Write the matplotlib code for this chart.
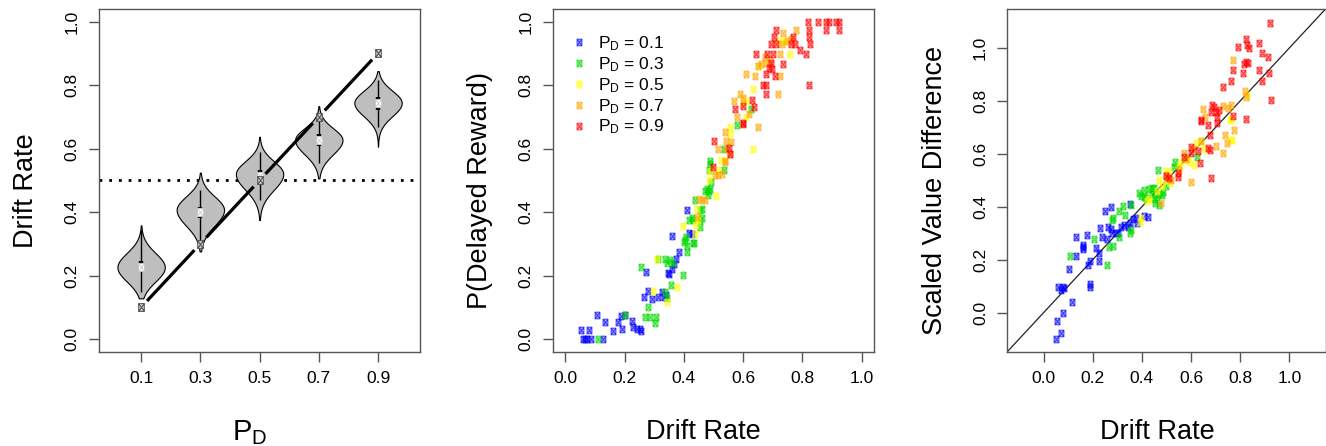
import numpy as np
import matplotlib
matplotlib.use("Agg")
import matplotlib.pyplot as plt
from matplotlib.path import Path
from matplotlib.lines import Line2D

plt.rcParams['font.family'] = ['Liberation Sans', 'DejaVu Sans']
plt.rcParams['mathtext.fontset'] = 'custom'
plt.rcParams['mathtext.rm'] = 'Liberation Sans'
plt.rcParams['mathtext.it'] = 'Liberation Sans:italic'

# ---- data ----
pd_levels = [0.1, 0.3, 0.5, 0.7, 0.9]
pd_labels = ['0.1', '0.3', '0.5', '0.7', '0.9']

# violin summaries (drift rate by P_D)
vio_lo = [0.128, 0.276, 0.375, 0.506, 0.606]
vio_hi = [0.358, 0.524, 0.637, 0.734, 0.844]
vio_mode = [0.226, 0.407, 0.52, 0.627, 0.744]
vio_sd_up = [0.045, 0.042, 0.040, 0.037, 0.038]
vio_sd_dn = [0.045, 0.050, 0.050, 0.045, 0.042]
vio_med = [0.227, 0.401, 0.515, 0.627, 0.742]
vio_q1 = [0.212, 0.380, 0.494, 0.608, 0.721]
vio_q3 = [0.245, 0.417, 0.534, 0.645, 0.761]
vio_wlo = [0.149, 0.297, 0.438, 0.553, 0.669]
vio_whi = [0.343, 0.470, 0.590, 0.705, 0.815]

# drift rate vs P(delayed reward)
p2_blue = [(0.061, 0), (0.072, 0), (0.085, 0), (0.128, 0), (0.066, 0.0),
           (0.053, 0.028), (0.08, 0.028), (0.106, 0.075), (0.134, 0.054),
           (0.162, 0.026), (0.187, 0.073), (0.179, 0.054), (0.19, 0.033),
           (0.224, 0.058), (0.229, 0.039), (0.241, 0.03), (0.252, 0.03),
           (0.257, 0.025), (0.2, 0.075), (0.266, 0.133), (0.278, 0.151),
           (0.291, 0.125), (0.272, 0.212), (0.313, 0.133), (0.325, 0.149),
           (0.334, 0.133), (0.347, 0.207), (0.35, 0.205), (0.359, 0.222),
           (0.366, 0.235), (0.373, 0.251), (0.383, 0.275), (0.359, 0.324),
           (0.412, 0.405), (0.418, 0.335), (0.426, 0.33), (0.34, 0.14)]
p2_green = [(0.111, 0), (0.201, 0.075), (0.269, 0.068), (0.285, 0.068),
            (0.302, 0.049), (0.306, 0.068), (0.28, 0.10), (0.257, 0.227),
            (0.336, 0.149), (0.343, 0.128), (0.356, 0.17), (0.313, 0.251),
            (0.336, 0.251), (0.353, 0.248), (0.342, 0.238), (0.364, 0.238),
            (0.398, 0.201), (0.403, 0.311), (0.431, 0.301), (0.409, 0.292),
            (0.411, 0.275), (0.4, 0.306), (0.433, 0.303), (0.407, 0.32),
            (0.418, 0.374), (0.426, 0.38), (0.431, 0.374), (0.454, 0.374),
            (0.463, 0.38), (0.454, 0.353), (0.437, 0.437), (0.454, 0.406),
            (0.463, 0.408), (0.477, 0.473), (0.485, 0.467), (0.49, 0.473),
            (0.47, 0.467), (0.483, 0.455), (0.493, 0.495), (0.488, 0.552),
            (0.485, 0.534), (0.535, 0.534), (0.534, 0.6), (0.58, 0.673),
            (0.627, 0.724), (0.49, 0.56)]
p2_yellow = [(0.297, 0.152), (0.342, 0.117), (0.377, 0.165), (0.31, 0.251),
             (0.398, 0.355), (0.437, 0.33), (0.443, 0.408), (0.448, 0.375),
             (0.485, 0.5), (0.51, 0.45), (0.516, 0.534), (0.527, 0.563),
             (0.555, 0.668), (0.555, 0.647), (0.632, 0.6), (0.6, 0.745),
             (0.611, 0.75), (0.611, 0.7), (0.634, 0.787), (0.76, 0.897),
             (0.65, 0.86), (0.72, 0.94), (0.74, 0.94), (0.44, 0.36), (0.49, 0.53)]
p2_orange = [(0.443, 0.385), (0.463, 0.437), (0.471, 0.437), (0.505, 0.516),
             (0.516, 0.516), (0.538, 0.557), (0.516, 0.6), (0.544, 0.6),
             (0.538, 0.652), (0.544, 0.624), (0.56, 0.62), (0.555, 0.584),
             (0.59, 0.771), (0.611, 0.834), (0.639, 0.829), (0.651, 0.667),
             (0.651, 0.861), (0.662, 0.866), (0.673, 0.887), (0.679, 0.871),
             (0.69, 0.876), (0.724, 0.897), (0.718, 0.771), (0.724, 0.829),
             (0.731, 0.93), (0.75, 0.94), (0.735, 0.965), (0.763, 0.944),
             (0.78, 0.974), (0.58, 0.70), (0.6, 0.76), (0.57, 0.75),
             (0.62, 0.71), (0.45, 0.44), (0.54, 0.56), (0.53, 0.52)]
p2_red = [(0.498, 0.543), (0.503, 0.623), (0.553, 0.602), (0.555, 0.584),
          (0.6, 0.676), (0.573, 0.724), (0.601, 0.733), (0.601, 0.679),
          (0.631, 0.753), (0.636, 0.73), (0.643, 0.897), (0.667, 0.8),
          (0.679, 0.8), (0.676, 0.771), (0.679, 0.834), (0.707, 0.829),
          (0.696, 0.871), (0.688, 0.855), (0.699, 0.85), (0.681, 0.897),
          (0.701, 0.897), (0.735, 0.866), (0.696, 0.929), (0.712, 0.929),
          (0.703, 0.95), (0.71, 0.974), (0.763, 0.929), (0.774, 0.929),
          (0.768, 0.95), (0.793, 0.911), (0.814, 0.897), (0.822, 0.8),
          (0.822, 0.95), (0.825, 0.928), (0.819, 0.999), (0.823, 0.974),
          (0.853, 1.0), (0.881, 1.0), (0.89, 1.0), (0.915, 1.0), (0.923, 1.0),
          (0.879, 0.974), (0.924, 0.974)]

# drift rate vs scaled value difference
p3_blue = [(0.05, -0.1), (0.07, -0.078), (0.054, -0.031), (0.077, -0.003),
           (0.115, 0.039), (0.058, 0.098), (0.077, 0.098), (0.084, 0.092),
           (0.07, 0.086), (0.188, 0.098), (0.188, 0.107), (0.104, 0.164),
           (0.131, 0.212), (0.131, 0.285), (0.175, 0.292), (0.158, 0.256),
           (0.158, 0.239), (0.161, 0.247), (0.181, 0.18), (0.19, 0.193),
           (0.215, 0.243), (0.225, 0.224), (0.225, 0.196), (0.231, 0.319),
           (0.239, 0.285), (0.258, 0.277), (0.248, 0.384), (0.273, 0.4),
           (0.262, 0.325), (0.273, 0.315), (0.279, 0.302), (0.293, 0.3),
           (0.304, 0.3), (0.316, 0.325), (0.325, 0.331), (0.343, 0.325),
           (0.35, 0.34), (0.365, 0.353), (0.352, 0.411), (0.41, 0.365),
           (0.424, 0.36), (0.377, 0.356), (0.379, 0.34)]
p3_green = [(0.107, 0.214), (0.204, 0.277), (0.258, 0.178), (0.282, 0.252),
            (0.266, 0.247), (0.306, 0.287), (0.282, 0.356), (0.305, 0.385),
            (0.323, 0.403), (0.35, 0.3), (0.356, 0.312), (0.277, 0.348),
            (0.331, 0.37), (0.354, 0.407), (0.387, 0.451), (0.408, 0.438),
            (0.441, 0.448), (0.462, 0.436), (0.482, 0.445), (0.455, 0.413),
            (0.471, 0.407), (0.451, 0.428), (0.41, 0.463), (0.43, 0.466),
            (0.451, 0.47), (0.397, 0.441), (0.417, 0.432), (0.484, 0.457),
            (0.464, 0.539), (0.536, 0.571), (0.624, 0.589), (0.44, 0.47),
            (0.5, 0.48), (0.47, 0.45), (0.53, 0.55)]
p3_yellow = [(0.394, 0.344), (0.397, 0.356), (0.42, 0.42), (0.46, 0.46),
             (0.48, 0.48), (0.47, 0.5), (0.5, 0.535), (0.51, 0.53),
             (0.513, 0.49), (0.55, 0.55), (0.585, 0.58), (0.59, 0.57),
             (0.613, 0.558), (0.64, 0.65), (0.652, 0.62), (0.757, 0.733),
             (0.761, 0.652), (0.763, 0.728), (0.765, 0.652), (0.826, 0.822),
             (0.5, 0.5), (0.43, 0.43), (0.56, 0.57), (0.62, 0.64)]
p3_orange = [(0.478, 0.413), (0.599, 0.495), (0.57, 0.602), (0.7, 0.63),
             (0.649, 0.768), (0.657, 0.741), (0.732, 0.782), (0.752, 0.773),
             (0.776, 0.69), (0.745, 0.642), (0.732, 0.604), (0.761, 0.785),
             (0.819, 0.839), (0.822, 0.816), (0.771, 0.955), (0.64, 0.65),
             (0.52, 0.5), (0.55, 0.54), (0.58, 0.58), (0.61, 0.62),
             (0.74, 0.67), (0.5, 0.52)]
p3_red = [(0.923, 1.096), (0.825, 1.034), (0.792, 1.005), (0.829, 1.011),
          (0.835, 0.999), (0.876, 1.018), (0.887, 0.98), (0.914, 0.965),
          (0.822, 0.948), (0.815, 0.94), (0.833, 0.945), (0.772, 0.917),
          (0.811, 0.904), (0.876, 0.917), (0.919, 0.907), (0.889, 0.877),
          (0.761, 0.877), (0.73, 0.851), (0.927, 0.804), (0.822, 0.732),
          (0.771, 0.743), (0.68, 0.508), (0.64, 0.728), (0.684, 0.785),
          (0.695, 0.778), (0.7, 0.759), (0.682, 0.759), (0.714, 0.766),
          (0.704, 0.741), (0.641, 0.725), (0.668, 0.709), (0.704, 0.716),
          (0.678, 0.671), (0.671, 0.621), (0.678, 0.615), (0.601, 0.627),
          (0.601, 0.602), (0.63, 0.612), (0.57, 0.589), (0.637, 0.567),
          (0.547, 0.527), (0.547, 0.514), (0.498, 0.516), (0.51, 0.51)]

group_colors = [(0, 0, 1), (0, 0.85, 0), (1, 1, 0), (1, 0.65, 0), (1, 0, 0)]
p2_groups = [p2_blue, p2_green, p2_yellow, p2_orange, p2_red]
p3_groups = [p3_blue, p3_green, p3_yellow, p3_orange, p3_red]

# R's pch=7: square with an X inside
w, h = 0.36, 0.5
BOXX = Path([(-w, -h), (w, -h), (w, h), (-w, h), (-w, -h),
             (-w, -h), (w, h), (-w, h), (w, -h)],
            [Path.MOVETO, Path.LINETO, Path.LINETO, Path.LINETO, Path.CLOSEPOLY,
             Path.MOVETO, Path.LINETO, Path.MOVETO, Path.LINETO])

SPINE = '#555555'
TICK_FS = 12.5
LABEL_FS = 19.5


def style_axes(ax):
    for s in ax.spines.values():
        s.set_color(SPINE)
        s.set_linewidth(1.0)
    ax.tick_params(direction='out', length=7, width=1.0, color=SPINE,
                   labelsize=TICK_FS, pad=7)
    ax.tick_params(axis='y', labelrotation=90)
    for t in ax.get_yticklabels():
        t.set_va('center')
    ax.xaxis.set_label_coords(0.47, -0.195)
    ax.yaxis.set_label_coords(-0.188, 0.471)


def scatter_groups(ax, groups):
    for pts, col in zip(groups, group_colors):
        pts = np.array(pts)
        ax.plot(pts[:, 0], pts[:, 1], linestyle='none', marker=BOXX, ms=4.8,
                mfc=col + (0.3,), mec=col + (0.75,), mew=0.7)


fig = plt.figure(figsize=(13.26, 4.46), dpi=100)
bottom, height = 0.2115, 0.7685

# ---- panel 1: violins ----
ax1 = fig.add_axes([0.0747, bottom, 0.2421, height])
ax1.axhline(0.5, color='black', lw=2, linestyle=(0, (1, 2.5)), zorder=1)
vwidth = 0.08
for i, p in enumerate(pd_levels):
    yy = np.linspace(vio_lo[i], vio_hi[i], 200)
    sd = np.where(yy >= vio_mode[i], vio_sd_up[i], vio_sd_dn[i])
    half = vwidth * np.exp(-0.5 * ((yy - vio_mode[i]) / sd) ** 2)
    ax1.fill_betweenx(yy, p - half, p + half, facecolor='#bebebe',
                      edgecolor='black', lw=0.8, zorder=2)
    ax1.vlines(p, vio_wlo[i], vio_whi[i], color='black', lw=1.0, zorder=3)
    ax1.vlines(p, vio_q1[i], vio_q3[i], color='black', lw=3.2, zorder=3)
ax1.plot(pd_levels, vio_med, linestyle='none', marker=BOXX, ms=6,
         mfc='white', mec='#c8c8c8', mew=0.6, zorder=4)

# type="b" line: segments with gaps around the points
gap = 0.02
for a, b in zip(pd_levels[:-1], pd_levels[1:]):
    ax1.plot([a + gap, b - gap], [a + gap, b - gap], color='black', lw=2.3,
             solid_capstyle='butt', zorder=5)
ax1.plot(pd_levels, pd_levels, linestyle='none', marker=BOXX, ms=5.5,
         mfc='#e0e0e0', mec='#555555', mew=0.8, zorder=6)
ax1.set_xlim(-0.042, 1.042)
ax1.set_ylim(-0.04, 1.04)
ax1.set_xticks(pd_levels)
ax1.set_xticklabels(pd_labels)
ax1.set_yticks(np.arange(0, 1.01, 0.2))
ax1.set_yticklabels(['0.0', '0.2', '0.4', '0.6', '0.8', '1.0'])
ax1.set_xlabel(r'$\mathrm{P_D}$', fontsize=LABEL_FS + 1.5)
ax1.set_ylabel('Drift Rate', fontsize=LABEL_FS)
style_axes(ax1)

# ---- panel 2 ----
ax2 = fig.add_axes([0.417, bottom, 0.2421, height])
scatter_groups(ax2, p2_groups)
ax2.set_xlim(-0.042, 1.042)
ax2.set_ylim(-0.04, 1.04)
ticks = np.arange(0, 1.01, 0.2)
tick_labels = ['0.0', '0.2', '0.4', '0.6', '0.8', '1.0']
ax2.set_xticks(ticks)
ax2.set_xticklabels(tick_labels)
ax2.set_yticks(ticks)
ax2.set_yticklabels(tick_labels)
ax2.set_xlabel('Drift Rate', fontsize=LABEL_FS)
ax2.set_ylabel('P(Delayed Reward)', fontsize=LABEL_FS)
style_axes(ax2)
handles = [Line2D([0], [0], linestyle='none', marker=BOXX, ms=4.8,
                  mfc=c + (0.3,), mec=c + (0.75,), mew=0.7,
                  label=r'$\mathrm{P_D}$ = ' + lab)
           for c, lab in zip(group_colors, pd_labels)]
ax2.legend(handles=handles, loc='upper left', bbox_to_anchor=(0.054, 0.927),
           frameon=False, fontsize=12.5, handlelength=1.0,
           handletextpad=0.6, labelspacing=0.13, borderpad=0, borderaxespad=0)

# ---- panel 3 ----
ax3 = fig.add_axes([0.7597, bottom, 0.2400, height])
scatter_groups(ax3, p3_groups)
ax3.axline((0, 0), slope=1, color='#222222', lw=0.9, zorder=0)
ax3.set_xlim(-0.148, 1.148)
ax3.set_ylim(-0.148, 1.148)
ax3.set_xticks(ticks)
ax3.set_xticklabels(tick_labels)
ax3.set_yticks(ticks)
ax3.set_yticklabels(tick_labels)
ax3.set_xlabel('Drift Rate', fontsize=LABEL_FS)
ax3.set_ylabel('Scaled Value Difference', fontsize=LABEL_FS)
style_axes(ax3)

fig.savefig('out.png', dpi=100)
